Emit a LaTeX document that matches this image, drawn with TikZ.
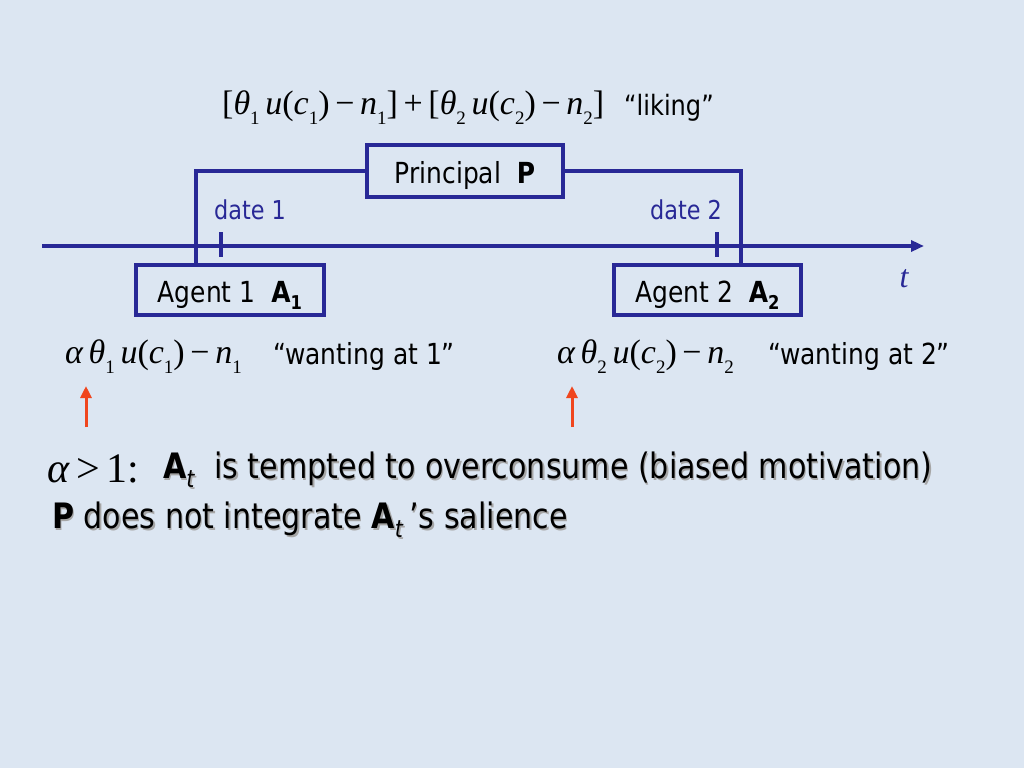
\documentclass[tikz,border=0pt]{standalone}
\usepackage{fontspec}
\setmainfont{DejaVu Sans}[FakeStretch=0.86]
\newfontfamily\tim{Liberation Serif}
\usetikzlibrary{arrows.meta}
\definecolor{bg}{RGB}{220,230,242}
\definecolor{navy}{RGB}{40,40,150}
\definecolor{redarr}{RGB}{240,70,30}
\newcommand{\mi}[1]{{\tim\itshape #1}}
\newcommand{\sbs}[1]{\raisebox{-0.3em}{\tim\fontsize{19}{19}\selectfont #1}}
\newcommand{\Ab}[1]{\textbf{A}\raisebox{-0.25em}{\fontsize{19}{19}\selectfont\textbf{#1}}}
\newcommand{\At}{\textbf{A}\raisebox{-0.25em}{\fontsize{24}{24}\selectfont\textit{t}}}
\begin{document}
\begin{tikzpicture}[x=1pt,y=-1pt,
  box/.style={draw=navy,line width=3.5pt,minimum height=50pt,inner sep=0pt,text height=24pt,text depth=0pt,font=\fontsize{29}{29}\selectfont},
  ln/.style={navy,line width=3.5pt},
  lbl/.style={inner sep=0pt,font=\fontsize{29}{29}\selectfont},
  fml/.style={inner sep=0pt,font=\tim\fontsize{34}{34}\selectfont},
  big/.style={inner sep=0pt,font=\fontsize{35}{35}\selectfont},
  redup/.style={redarr,line width=3pt,-{Triangle[length=12pt,width=11pt]}}]
\useasboundingbox[fill=bg] (0,0) rectangle (1024,768);
% timeline
\coordinate (tl0) at (42,246);
\coordinate (tl1) at (924,246);
\draw[ln,-{Triangle[length=13pt,width=11pt]}] (tl0) -- (tl1);
\coordinate (t1a) at (221,232); \coordinate (t1b) at (221,257);
\coordinate (t2a) at (717,232); \coordinate (t2b) at (717,257);
\draw[ln] (t1a) -- (t1b);
\draw[ln] (t2a) -- (t2b);
% boxes
\node[box,minimum width=196pt,minimum height=52pt] (P) at (465,171) {Principal\ \ \textbf{P}};
\node[box,minimum width=188pt] (A1) at (230,290) {Agent 1\ \ \Ab{1}};
\node[box,minimum width=187pt] (A2) at (707.5,290) {Agent 2\ \ \Ab{2}};
\coordinate (c1) at (196,171);
\coordinate (c2) at (741,171);
\draw[ln] (P.west) -- (c1) -- (c1 |- A1.north);
\draw[ln] (P.east) -- (c2) -- (c2 |- A2.north);
% labels
\node[lbl,text=navy,font=\fontsize{26}{26}\selectfont] (d1) at (250,210) {date 1};
\node[lbl,text=navy,font=\fontsize{26}{26}\selectfont] (d2) at (686,210) {date 2};
\node[lbl,text=navy,font=\tim\itshape\fontsize{32}{32}\selectfont] (t) at (904,279) {t};
% top formula
\node[fml,anchor=west] (lik) at (222,108) {[\mi{θ}\sbs{1}\,\mi{u}(\mi{c}\sbs{1})\,−\,\mi{n}\sbs{1}]\,+\,[\mi{θ}\sbs{2}\,\mi{u}(\mi{c}\sbs{2})\,−\,\mi{n}\sbs{2}]};
\node[lbl,anchor=west,font=\fontsize{28}{28}\selectfont] (likt) at (624,108) {“liking”};
% wanting
\node[fml,anchor=west] (w1) at (65,357) {\mi{α}\,\mi{θ}\sbs{1}\,\mi{u}(\mi{c}\sbs{1})\,−\,\mi{n}\sbs{1}};
\node[lbl,anchor=west] (w1t) at (273,356) {“wanting at 1”};
\node[fml,anchor=west] (w2) at (557,357) {\mi{α}\,\mi{θ}\sbs{2}\,\mi{u}(\mi{c}\sbs{2})\,−\,\mi{n}\sbs{2}};
\node[lbl,anchor=west] (w2t) at (768,356) {“wanting at 2”};
% red arrows
\coordinate (r1a) at (86,427); \coordinate (r1b) at (86,386);
\coordinate (r2a) at (572,427); \coordinate (r2b) at (572,386);
\draw[redup] (r1a) -- (r1b);
\draw[redup] (r2a) -- (r2b);
% bottom text
\node[inner sep=0pt,anchor=west,font=\tim\fontsize{42}{42}\selectfont] (alp) at (47,469) {\mi{α}\,>\,1:};
\node[big,anchor=west,text=gray!70] at (164.5,471.5) {\At\ \ is tempted to overconsume (biased motivation)};
\node[big,anchor=west] (l1) at (163,470) {\At\ \ is tempted to overconsume (biased motivation)};
\node[big,anchor=west,text=gray!70] at (53.5,521.5) {\textbf{P} does not integrate \At\,’s salience};
\node[big,anchor=west] (l2) at (52,520) {\textbf{P} does not integrate \At\,’s salience};
\end{tikzpicture}
\end{document}
